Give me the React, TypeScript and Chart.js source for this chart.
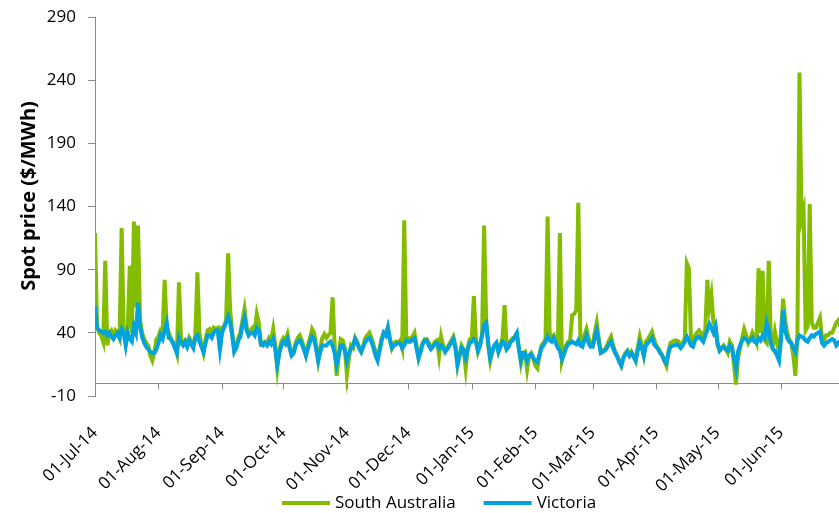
import React, { useEffect, useRef } from 'react';
import { Chart, registerables } from 'chart.js';

Chart.register(...registerables);

// Month-start tick positions (day index from 01-Jul-14) and their labels
const monthStartDays = [0, 31, 62, 92, 123, 153, 184, 215, 243, 274, 304, 335];
const monthLabels = [
  '01-Jul-14', '01-Aug-14', '01-Sep-14', '01-Oct-14', '01-Nov-14', '01-Dec-14',
  '01-Jan-15', '01-Feb-15', '01-Mar-15', '01-Apr-15', '01-May-15', '01-Jun-15',
];
const yTickValues = [-10, 40, 90, 140, 190, 240, 290];

// Daily spot price, South Australia ($/MWh), 01-Jul-14 .. 30-Jun-15
const southAustralia = [
  // Jul
  119, 45, 40, 38, 33, 97, 30, 40, 42, 38, 42, 40, 36, 123, 42, 33, 45, 93, 40, 128, 60, 125, 50, 40, 35, 32, 30, 22, 18, 25, 35,
  // Aug
  37, 42, 40, 82, 45, 40, 36, 33, 30, 24, 80, 35, 32, 34, 30, 36, 33, 30, 38, 88, 40, 30, 24, 35, 42, 43, 40, 44, 43, 44, 26,
  // Sep
  44, 45, 50, 103, 58, 40, 26, 30, 36, 40, 50, 59, 45, 39, 42, 44, 42, 55, 48, 31, 32, 33, 32, 36, 34, 43, 30, 12, 26, 33,
  // Oct
  36, 34, 39, 30, 23, 25, 32, 36, 38, 34, 28, 22, 30, 36, 43, 40, 30, 18, 28, 36, 39, 36, 38, 40, 68, 30, 6, 22, 35, 34, 28,
  // Nov
  7, 20, 30, 28, 36, 33, 28, 25, 30, 36, 38, 40, 36, 30, 25, 22, 28, 36, 40, 38, 44, 36, 28, 32, 33, 32, 34, 28, 129, 36,
  // Dec
  36, 35, 37, 40, 30, 20, 26, 32, 35, 35, 32, 28, 30, 33, 34, 22, 37, 30, 25, 28, 31, 34, 37, 30, 14, 22, 30, 27, 12, 28, 35,
  // Jan
  36, 69, 35, 25, 30, 38, 125, 50, 30, 18, 26, 30, 32, 25, 30, 36, 62, 28, 30, 34, 36, 36, 38, 28, 16, 24, 25, 11, 22, 24, 20,
  // Feb
  14, 12, 22, 30, 32, 35, 132, 40, 36, 38, 34, 30, 119, 18, 24, 30, 33, 34, 54, 55, 58, 143, 36, 32, 38, 43, 36, 30,
  // Mar
  30, 40, 48, 35, 25, 26, 27, 30, 34, 37, 30, 25, 22, 18, 14, 20, 24, 26, 22, 25, 22, 18, 28, 37, 30, 22, 33, 35, 38, 41, 35,
  // Apr
  30, 28, 25, 22, 18, 14, 25, 32, 33, 34, 34, 33, 30, 32, 36, 95, 91, 36, 32, 38, 40, 42, 40, 36, 42, 82, 60, 70, 48, 45,
  // May
  30, 26, 28, 30, 27, 24, 33, 30, 15, -1, 20, 28, 36, 43, 38, 32, 35, 40, 36, 32, 91, 40, 89, 34, 32, 97, 36, 30, 41, 32, 25,
  // Jun
  40, 67, 50, 40, 35, 32, 22, 6, 40, 246, 130, 137, 42, 45, 142, 48, 44, 44, 48, 52, 36, 34, 38, 38, 40, 40, 44, 48, 50, 45,
];

// Daily spot price, Victoria ($/MWh)
const victoria = [
  // Jul
  61, 44, 42, 41, 40, 41, 38, 40, 37, 35, 38, 40, 36, 43, 40, 30, 40, 35, 33, 45, 40, 64, 45, 37, 32, 29, 27, 25, 24, 24, 27,
  // Aug
  32, 38, 35, 42, 48, 36, 35, 32, 28, 24, 36, 32, 30, 33, 29, 34, 31, 28, 36, 38, 33, 29, 25, 32, 38, 38, 36, 40, 42, 42, 27,
  // Sep
  40, 44, 48, 53, 48, 38, 25, 28, 34, 37, 46, 52, 42, 38, 40, 40, 38, 44, 42, 31, 30, 32, 30, 33, 31, 35, 28, 15, 24, 30,
  // Oct
  33, 31, 35, 28, 22, 24, 30, 33, 34, 31, 27, 22, 28, 33, 37, 35, 27, 18, 25, 30, 30, 30, 32, 33, 30, 24, 15, 22, 30, 30, 26,
  // Nov
  18, 24, 28, 30, 35, 32, 28, 25, 29, 33, 35, 36, 33, 28, 22, 18, 26, 34, 40, 38, 44, 34, 28, 30, 31, 32, 32, 28, 30, 34,
  // Dec
  33, 33, 35, 36, 28, 20, 25, 31, 34, 34, 30, 27, 29, 31, 32, 28, 30, 28, 25, 27, 30, 32, 35, 28, 15, 22, 28, 26, 20, 27, 32,
  // Jan
  33, 35, 33, 26, 30, 38, 46, 48, 32, 20, 25, 30, 32, 25, 29, 33, 32, 27, 29, 33, 34, 37, 40, 27, 18, 24, 24, 18, 22, 23, 20,
  // Feb
  18, 17, 22, 28, 30, 33, 37, 34, 33, 36, 32, 28, 26, 19, 23, 28, 31, 32, 33, 32, 31, 34, 30, 29, 34, 38, 32, 29,
  // Mar
  29, 36, 42, 33, 24, 25, 26, 28, 31, 33, 28, 24, 21, 17, 14, 20, 23, 25, 22, 24, 21, 18, 26, 32, 28, 22, 30, 32, 34, 36, 31,
  // Apr
  29, 27, 24, 22, 18, 16, 24, 29, 30, 30, 31, 30, 28, 30, 33, 37, 34, 30, 29, 34, 36, 37, 35, 33, 38, 42, 47, 44, 40, 45,
  // May
  32, 26, 28, 29, 27, 26, 30, 28, 20, 12, 25, 30, 34, 36, 35, 33, 34, 36, 33, 32, 36, 34, 38, 36, 48, 42, 32, 27, 26, 22, 18,
  // Jun
  35, 58, 42, 36, 33, 32, 28, 25, 34, 38, 37, 36, 34, 33, 36, 38, 37, 39, 40, 41, 32, 30, 32, 33, 34, 35, 34, 30, 32, 30,
];

const FONT = "'Open Sans', sans-serif";
const AXIS_COLOR = '#8a8a8a';
const TEXT_COLOR = '#000000';
const GREEN = '#84BD00';
const BLUE = '#00A3DD';
const Y_TITLE = 'Spot price ($/MWh)';

const excelAxesPlugin = {
  id: 'excelAxes',
  beforeDatasetsDraw(chart: any) {
    const { ctx, chartArea, scales } = chart;
    const y0 = Math.round(scales.y.getPixelForValue(0)) + 0.5;
    ctx.save();
    ctx.strokeStyle = AXIS_COLOR;
    ctx.lineWidth = 1;
    ctx.beginPath();
    ctx.moveTo(chartArea.left, y0);
    ctx.lineTo(chartArea.right, y0);
    for (const d of monthStartDays) {
      const x = Math.round(scales.x.getPixelForValue(d)) + 0.5;
      ctx.moveTo(x, y0);
      ctx.lineTo(x, y0 + 6);
    }
    ctx.stroke();
    ctx.restore();
  },
  afterDraw(chart: any) {
    const { ctx } = chart;
    ctx.save();
    // y-axis title
    ctx.translate(29.5, 196);
    ctx.rotate(-Math.PI / 2);
    ctx.font = `bold 20px ${FONT}`;
    ctx.fillStyle = TEXT_COLOR;
    ctx.textAlign = 'center';
    ctx.textBaseline = 'middle';
    ctx.fillText(Y_TITLE, 0, 0);
    ctx.restore();

    // legend
    ctx.save();
    ctx.font = `17px ${FONT}`;
    ctx.textBaseline = 'middle';
    ctx.textAlign = 'left';
    let x = 282;
    const y = 503;
    chart.data.datasets.forEach((ds: any) => {
      ctx.strokeStyle = ds.borderColor;
      ctx.lineWidth = 4;
      ctx.beginPath();
      ctx.moveTo(x, y);
      ctx.lineTo(x + 48, y);
      ctx.stroke();
      ctx.fillStyle = TEXT_COLOR;
      ctx.fillText(ds.label, x + 53, y);
      x += 53 + ctx.measureText(ds.label).width + 28;
    });
    ctx.restore();
  },
};

export default function App() {
  const canvasRef = useRef<HTMLCanvasElement>(null);

  useEffect(() => {
    const canvas = canvasRef.current;
    if (!canvas) return;
    const chart = new Chart(canvas, {
      type: 'line',
      data: {
        labels: southAustralia.map((_, i) => i),
        datasets: [
          {
            label: 'South Australia',
            data: southAustralia,
            borderColor: GREEN,
            backgroundColor: GREEN,
            borderWidth: 4,
            pointRadius: 0,
            tension: 0,
            order: 1,
          },
          {
            label: 'Victoria',
            data: victoria,
            borderColor: BLUE,
            backgroundColor: BLUE,
            borderWidth: 4,
            pointRadius: 0,
            tension: 0,
            order: 0,
          },
        ],
      },
      options: {
        responsive: false,
        animation: false,
        devicePixelRatio: 1,
        layout: { padding: { top: 17, right: 0, bottom: 0, left: 0 } },
        plugins: {
          legend: { display: false },
          tooltip: { enabled: false },
        },
        scales: {
          x: {
            type: 'linear',
            min: 0,
            max: 363.3,
            afterBuildTicks: (s: any) => {
              s.ticks = monthStartDays.map((v) => ({ value: v }));
            },
            afterFit: (s: any) => {
              s.height = 117;
              s.paddingLeft = 0;
              s.paddingRight = 0;
              s.paddingTop = 0;
              s.paddingBottom = 0;
            },
            grid: { display: false },
            border: { display: false },
            ticks: {
              autoSkip: false,
              minRotation: 45,
              maxRotation: 45,
              padding: 19,
              color: TEXT_COLOR,
              font: { family: FONT, size: 17 },
              callback: (v: any) => {
                const i = monthStartDays.indexOf(Number(v));
                return i >= 0 ? monthLabels[i] : '';
              },
            },
          },
          y: {
            min: -10,
            max: 290,
            afterBuildTicks: (s: any) => {
              s.ticks = yTickValues.map((v) => ({ value: v }));
            },
            afterFit: (s: any) => {
              s.width = 95;
              s.paddingTop = 0;
              s.paddingBottom = 0;
              s.paddingLeft = 0;
              s.paddingRight = 0;
            },
            grid: { drawOnChartArea: false, color: AXIS_COLOR, tickLength: 7 },
            border: { color: AXIS_COLOR, width: 1 },
            ticks: {
              padding: 12,
              color: TEXT_COLOR,
              font: { family: FONT, size: 17 },
            },
          },
        },
      },
      plugins: [excelAxesPlugin],
    });
    return () => chart.destroy();
  }, []);

  return (
    <div style={{ position: 'absolute', left: 0, top: 0, width: 839, height: 513, background: '#fff' }}>
      <canvas ref={canvasRef} width={839} height={513} style={{ display: 'block' }} />
    </div>
  );
}
